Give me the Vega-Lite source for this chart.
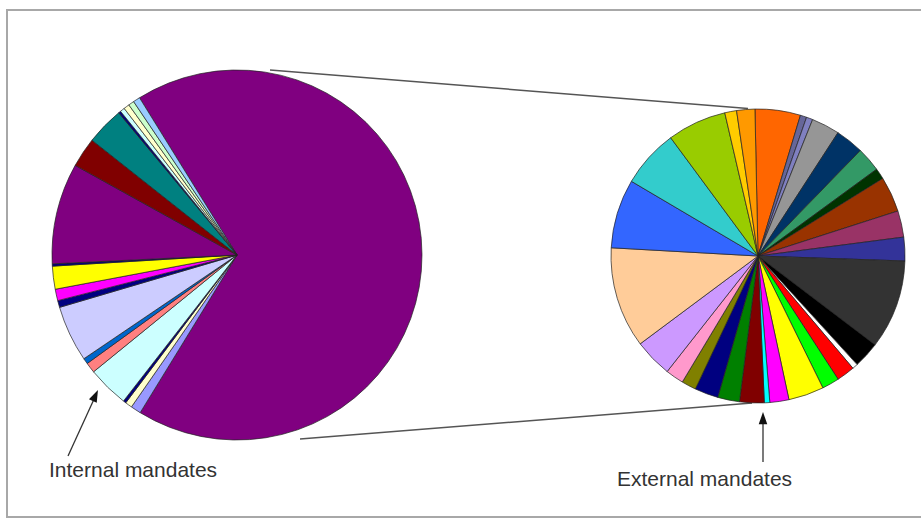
{
  "$schema": "https://vega.github.io/schema/vega-lite/v6.json",
  "autosize": {"type": "none"},
  "width": 918,
  "height": 507,
  "padding": {"left": 7, "top": 10, "right": 0, "bottom": 5},
  "background": "#ffffff",
  "config": {
    "view": {"stroke": "#a8a8a8", "strokeWidth": 2},
    "axis": {"disable": true},
    "legend": {"disable": true}
  },
  "datasets": {
    "internal": [
      {"pie": "Internal", "slice": "I01", "share": 67.5},
      {"pie": "Internal", "slice": "I02", "share": 0.9},
      {"pie": "Internal", "slice": "I03", "share": 0.6},
      {"pie": "Internal", "slice": "I04", "share": 0.25},
      {"pie": "Internal", "slice": "I05", "share": 3.6},
      {"pie": "Internal", "slice": "I06", "share": 0.9},
      {"pie": "Internal", "slice": "I07", "share": 0.5},
      {"pie": "Internal", "slice": "I08", "share": 4.9},
      {"pie": "Internal", "slice": "I09", "share": 0.6},
      {"pie": "Internal", "slice": "I10", "share": 1.0},
      {"pie": "Internal", "slice": "I11", "share": 2.0},
      {"pie": "Internal", "slice": "I12", "share": 0.2},
      {"pie": "Internal", "slice": "I13", "share": 8.8},
      {"pie": "Internal", "slice": "I14", "share": 2.6},
      {"pie": "Internal", "slice": "I15", "share": 3.3},
      {"pie": "Internal", "slice": "I16", "share": 0.2},
      {"pie": "Internal", "slice": "I17", "share": 0.4},
      {"pie": "Internal", "slice": "I18", "share": 0.5},
      {"pie": "Internal", "slice": "I19", "share": 0.5},
      {"pie": "Internal", "slice": "I20", "share": 0.6}
    ],
    "external": [
      {"pie": "External", "slice": "E01", "share": 5.0},
      {"pie": "External", "slice": "E02", "share": 0.7},
      {"pie": "External", "slice": "E03", "share": 0.7},
      {"pie": "External", "slice": "E04", "share": 3.1},
      {"pie": "External", "slice": "E05", "share": 3.1},
      {"pie": "External", "slice": "E06", "share": 2.7},
      {"pie": "External", "slice": "E07", "share": 1.2},
      {"pie": "External", "slice": "E08", "share": 3.9},
      {"pie": "External", "slice": "E09", "share": 2.9},
      {"pie": "External", "slice": "E10", "share": 2.6},
      {"pie": "External", "slice": "E11", "share": 9.8},
      {"pie": "External", "slice": "E12", "share": 2.9},
      {"pie": "External", "slice": "E13", "share": 0.6},
      {"pie": "External", "slice": "E14", "share": 2.0},
      {"pie": "External", "slice": "E15", "share": 1.9},
      {"pie": "External", "slice": "E16", "share": 3.9},
      {"pie": "External", "slice": "E17", "share": 2.1},
      {"pie": "External", "slice": "E18", "share": 0.6},
      {"pie": "External", "slice": "E19", "share": 2.7},
      {"pie": "External", "slice": "E20", "share": 2.4},
      {"pie": "External", "slice": "E21", "share": 2.6},
      {"pie": "External", "slice": "E22", "share": 1.6},
      {"pie": "External", "slice": "E23", "share": 2.0},
      {"pie": "External", "slice": "E24", "share": 4.2},
      {"pie": "External", "slice": "E25", "share": 11.1},
      {"pie": "External", "slice": "E26", "share": 7.6},
      {"pie": "External", "slice": "E27", "share": 6.4},
      {"pie": "External", "slice": "E28", "share": 6.5},
      {"pie": "External", "slice": "E29", "share": 1.3},
      {"pie": "External", "slice": "E30", "share": 2.0}
    ]
  },
  "resolve": {"scale": {"theta": "independent"}},
  "layer": [
    {
      "data": {"values": [{}]},
      "mark": {"type": "rule", "color": "#555555", "strokeWidth": 1.5},
      "encoding": {
        "x": {"datum": 270, "type": "quantitative", "scale": {"domain": [7, 925], "nice": false, "zero": false}},
        "y": {"datum": 70, "type": "quantitative", "scale": {"domain": [10, 517], "reverse": true, "nice": false, "zero": false}},
        "x2": {"datum": 748},
        "y2": {"datum": 108.5}
      }
    },
    {
      "data": {"values": [{}]},
      "mark": {"type": "rule", "color": "#555555", "strokeWidth": 1.5},
      "encoding": {
        "x": {"datum": 300, "type": "quantitative", "scale": {"domain": [7, 925], "nice": false, "zero": false}},
        "y": {"datum": 439, "type": "quantitative", "scale": {"domain": [10, 517], "reverse": true, "nice": false, "zero": false}},
        "x2": {"datum": 752},
        "y2": {"datum": 403}
      }
    },
    {
      "data": {"name": "internal"},
      "mark": {"type": "arc", "radius": 185, "stroke": "#222222", "strokeWidth": 0.7},
      "encoding": {
        "x": {"datum": 237, "type": "quantitative", "scale": {"domain": [7, 925], "nice": false, "zero": false}},
        "y": {"datum": 255, "type": "quantitative", "scale": {"domain": [10, 517], "reverse": true, "nice": false, "zero": false}},
        "theta": {"field": "share", "type": "quantitative", "stack": true, "scale": {"range": [5.728, 12.0112]}},
        "order": {"field": "slice", "type": "ordinal", "sort": "ascending"},
        "color": {
          "field": "slice", "type": "nominal", "legend": null,
          "scale": {
            "domain": ["I01","I02","I03","I04","I05","I06","I07","I08","I09","I10","I11","I12","I13","I14","I15","I16","I17","I18","I19","I20","E01","E02","E03","E04","E05","E06","E07","E08","E09","E10","E11","E12","E13","E14","E15","E16","E17","E18","E19","E20","E21","E22","E23","E24","E25","E26","E27","E28","E29","E30"],
            "range": ["#800080","#9999FF","#FFFFCC","#000080","#CCFFFF","#FF8080","#0066CC","#CCCCFF","#000080","#FF00FF","#FFFF00","#000080","#800080","#800000","#008080","#000080","#CCFFFF","#FFFFCC","#CCFFCC","#99CCFF","#FF6600","#666699","#8080C0","#969696","#003366","#339966","#003300","#993300","#993366","#333399","#333333","#000000","#FFFFFF","#FF0000","#00FF00","#FFFF00","#FF00FF","#00FFFF","#800000","#008000","#000080","#808000","#FF99CC","#CC99FF","#FFCC99","#3366FF","#33CCCC","#99CC00","#FFCC00","#FF9900"]
          }
        }
      }
    },
    {
      "data": {"name": "external"},
      "mark": {"type": "arc", "radius": 147, "stroke": "#222222", "strokeWidth": 0.7},
      "encoding": {
        "x": {"datum": 758, "type": "quantitative", "scale": {"domain": [7, 925], "nice": false, "zero": false}},
        "y": {"datum": 256, "type": "quantitative", "scale": {"domain": [10, 517], "reverse": true, "nice": false, "zero": false}},
        "theta": {"field": "share", "type": "quantitative", "stack": true, "scale": {"range": [-0.0209, 6.2623]}},
        "order": {"field": "slice", "type": "ordinal", "sort": "ascending"},
        "color": {"field": "slice", "type": "nominal", "legend": null}
      }
    },
    {
      "data": {"values": [{}]},
      "mark": {"type": "rule", "color": "#333333", "strokeWidth": 1.3},
      "encoding": {
        "x": {"datum": 68, "type": "quantitative", "scale": {"domain": [7, 925], "nice": false, "zero": false}},
        "y": {"datum": 456, "type": "quantitative", "scale": {"domain": [10, 517], "reverse": true, "nice": false, "zero": false}},
        "x2": {"datum": 95},
        "y2": {"datum": 397}
      }
    },
    {
      "data": {"values": [{}]},
      "mark": {"type": "point", "shape": "M0,-1L-0.7,1L0.7,1Z", "filled": true, "color": "#111111", "size": 150, "angle": 24.8, "opacity": 1},
      "encoding": {
        "x": {"datum": 95.4, "type": "quantitative", "scale": {"domain": [7, 925], "nice": false, "zero": false}},
        "y": {"datum": 395.5, "type": "quantitative", "scale": {"domain": [10, 517], "reverse": true, "nice": false, "zero": false}}
      }
    },
    {
      "data": {"values": [{}]},
      "mark": {"type": "rule", "color": "#333333", "strokeWidth": 1.3},
      "encoding": {
        "x": {"datum": 763, "type": "quantitative", "scale": {"domain": [7, 925], "nice": false, "zero": false}},
        "y": {"datum": 462, "type": "quantitative", "scale": {"domain": [10, 517], "reverse": true, "nice": false, "zero": false}},
        "x2": {"datum": 763},
        "y2": {"datum": 418}
      }
    },
    {
      "data": {"values": [{}]},
      "mark": {"type": "point", "shape": "M0,-1L-0.7,1L0.7,1Z", "filled": true, "color": "#111111", "size": 150, "angle": 0, "opacity": 1},
      "encoding": {
        "x": {"datum": 763, "type": "quantitative", "scale": {"domain": [7, 925], "nice": false, "zero": false}},
        "y": {"datum": 418.1, "type": "quantitative", "scale": {"domain": [10, 517], "reverse": true, "nice": false, "zero": false}}
      }
    },
    {
      "data": {"values": [{}]},
      "mark": {"type": "text", "align": "left", "baseline": "alphabetic", "font": "Liberation Sans", "fontSize": 21, "color": "#333333"},
      "encoding": {
        "x": {"datum": 49, "type": "quantitative", "scale": {"domain": [7, 925], "nice": false, "zero": false}},
        "y": {"datum": 477, "type": "quantitative", "scale": {"domain": [10, 517], "reverse": true, "nice": false, "zero": false}},
        "text": {"value": "Internal mandates"}
      }
    },
    {
      "data": {"values": [{}]},
      "mark": {"type": "text", "align": "left", "baseline": "alphabetic", "font": "Liberation Sans", "fontSize": 21, "color": "#333333"},
      "encoding": {
        "x": {"datum": 617, "type": "quantitative", "scale": {"domain": [7, 925], "nice": false, "zero": false}},
        "y": {"datum": 486, "type": "quantitative", "scale": {"domain": [10, 517], "reverse": true, "nice": false, "zero": false}},
        "text": {"value": "External mandates"}
      }
    }
  ]
}
